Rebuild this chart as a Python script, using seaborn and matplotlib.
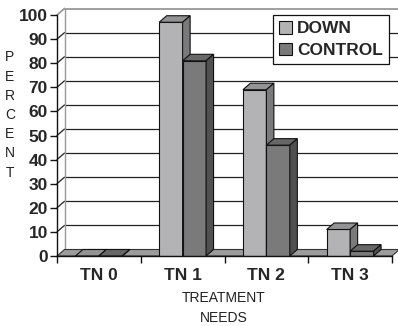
import matplotlib
matplotlib.use("Agg")
import matplotlib.pyplot as plt
from matplotlib.patches import Polygon
import seaborn as sns
import pandas as pd

categories = ["TN 0", "TN 1", "TN 2", "TN 3"]
down = [0, 97, 69, 11]
control = [0, 81, 46, 2]
series = ["DOWN", "CONTROL"]
yticks = [0, 10, 20, 30, 40, 50, 60, 70, 80, 90, 100]

df = pd.DataFrame({
    "need": categories * 2,
    "pct": down + control,
    "group": ["DOWN"] * 4 + ["CONTROL"] * 4,
})

sns.set_theme(style="white")
plt.rcParams["font.family"] = ["Liberation Sans", "DejaVu Sans"]

W, H = 398, 326
fig = plt.figure(figsize=(W / 100, H / 100), dpi=100)
axl, axb, axw, axh = 57, 70, 335, 241
ax = fig.add_axes([axl / W, axb / H, axw / W, axh / H])

front = {"DOWN": "#b3b3b5", "CONTROL": "#7a7a7a"}
top = {"DOWN": "#939393", "CONTROL": "#676767"}
side = {"DOWN": "#7a7a7a", "CONTROL": "#505050"}

sns.barplot(data=df, x="need", y="pct", hue="group", hue_order=series,
            order=categories, palette=front, width=0.56, gap=0,
            edgecolor="#111111", linewidth=0.8, saturation=1, ax=ax, zorder=3)

ax.set_xlim(-0.5, 3.5)
ax.set_ylim(0, 100)
ddx = 7.5 / axw * 4
ddy = 6.5 / axh * 100

# back wall gridlines and left wall diagonals
for v in yticks[1:]:
    col = "#999999" if v == 100 else "#222222"
    lw = 1.3 if v == 100 else 0.9
    ax.plot([-0.5 + ddx, 3.5 + 2 * ddx], [v + ddy, v + ddy], color=col, lw=lw,
            zorder=0.5, clip_on=False)
    ax.plot([-0.5, -0.5 + ddx], [v, v + ddy], color=col, lw=lw, zorder=0.5,
            clip_on=False)
ax.plot([-0.5 + ddx, -0.5 + ddx], [ddy, 100 + ddy], color="#999999", lw=1.0,
        zorder=0.6, clip_on=False)

# floor
floor = Polygon([(-0.5, 0), (3.5, 0), (3.5 + ddx, ddy), (-0.5 + ddx, ddy)],
                closed=True, facecolor="#9c9c9c", edgecolor="#333333", lw=0.8,
                zorder=1, clip_on=False)
ax.add_patch(floor)

# 3D faces for the bars
for gi, cont in enumerate(ax.containers):
    name = series[gi]
    for p in cont.patches:
        x, y0 = p.get_x(), p.get_y()
        w, h = p.get_width(), p.get_height()
        z = 3 + gi
        p.set_zorder(z)
        t = y0 + h
        ax.add_patch(Polygon([(x, t), (x + w, t), (x + w + ddx, t + ddy), (x + ddx, t + ddy)],
                             closed=True, facecolor=top[name], edgecolor="#111111",
                             lw=0.8, zorder=z, clip_on=False))
        ax.add_patch(Polygon([(x + w, y0), (x + w + ddx, y0 + ddy), (x + w + ddx, t + ddy), (x + w, t)],
                             closed=True, facecolor=side[name], edgecolor="#111111",
                             lw=0.8, zorder=z, clip_on=False))

# axes styling
for s in ["top", "right"]:
    ax.spines[s].set_visible(False)
ax.spines["left"].set_color("#111111")
ax.spines["bottom"].set_color("#111111")
ax.spines["left"].set_linewidth(1.0)
ax.spines["bottom"].set_linewidth(1.0)
ax.spines["left"].set_zorder(6)
ax.spines["bottom"].set_zorder(6)
ax.set_yticks(yticks)
ax.set_yticklabels([str(v) for v in yticks], fontweight="bold", fontsize=12.5)
ax.tick_params(axis="y", direction="out", length=5, width=1, color="#111111",
               pad=1.5, left=True)
ax.set_xticks(range(len(categories)))
ax.set_xticklabels(categories, fontweight="bold", fontsize=12.5)
ax.set_xticks([-0.5, 0.5, 1.5, 2.5, 3.5], minor=True)
ax.tick_params(axis="x", which="major", length=0, pad=9)
ax.tick_params(axis="x", which="minor", direction="out", length=5, width=1,
               color="#111111", bottom=True)
ax.set_xlabel("")
ax.set_ylabel("")
ax.patch.set_alpha(0)

leg = ax.legend(loc="upper right", bbox_to_anchor=(0.992, 1.0), borderaxespad=0,
                frameon=True, fancybox=False, edgecolor="#111111",
                prop={"weight": "bold", "size": 12.5}, handlelength=0.75,
                handleheight=0.75, handletextpad=0.3, labelspacing=0.35,
                borderpad=0.35, framealpha=1)
leg.get_frame().set_linewidth(0.9)
leg.set_zorder(10)

fig.text(10 / W, 1 - 115 / H, "\n".join("PERCENT"), ha="center", va="center",
         fontsize=10, linespacing=1.47, color="#222222")
fig.text(224 / W, 1 - 298 / H, "TREATMENT", ha="center", va="center",
         fontsize=10, color="#222222")
fig.text(224 / W, 1 - 318 / H, "NEEDS", ha="center", va="center",
         fontsize=10, color="#222222")

fig.savefig("out.png", dpi=100)
